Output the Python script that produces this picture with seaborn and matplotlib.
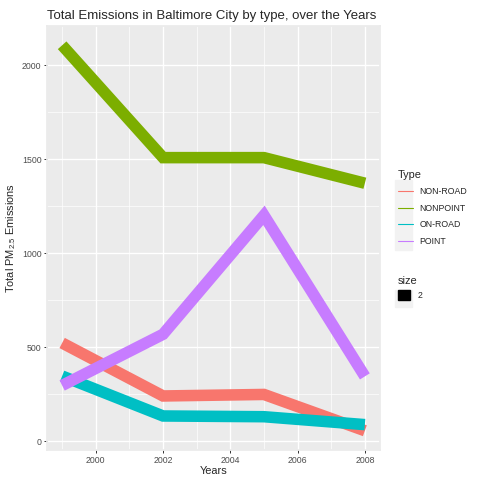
import pandas as pd
import matplotlib
matplotlib.use("Agg")
import matplotlib.pyplot as plt
import seaborn as sns
from matplotlib.lines import Line2D
from matplotlib.patches import Patch, Rectangle

# Values
years = [1999, 2002, 2005, 2008]
types = ["NON-ROAD", "NONPOINT", "ON-ROAD", "POINT"]
non_road = [522.9, 240.8, 248.9, 55.8]
nonpoint = [2107.6, 1509.5, 1509.5, 1373.2]
on_road = [346.8, 134.3, 130.4, 88.3]
point = [296.8, 569.3, 1202.5, 345.0]
colors = ["#F8766D", "#7CAE00", "#00BFC4", "#C77CFF"]

data = pd.DataFrame({
    "year": years * 4,
    "Type": [t for t in types for _ in years],
    "Emissions": non_road + nonpoint + on_road + point,
})

sns.set_theme(style="darkgrid", rc={
    "axes.facecolor": "#EBEBEB",
    "grid.color": "white",
    "axes.edgecolor": "#EBEBEB",
    "xtick.bottom": True,
    "ytick.left": True,
    "xtick.color": "#333333",
    "ytick.color": "#333333",
})
plt.rcParams["font.family"] = ["Liberation Sans", "DejaVu Sans"]
plt.rcParams["mathtext.fontset"] = "custom"
plt.rcParams["mathtext.rm"] = "Liberation Sans"
plt.rcParams["mathtext.default"] = "regular"

fig = plt.figure(figsize=(4.8, 4.8), dpi=100)
ax = fig.add_axes([47 / 480, 1 - 450 / 480, 333 / 480, 424 / 480])

sns.lineplot(data=data, x="year", y="Emissions", hue="Type", palette=colors,
             linewidth=8.3, ax=ax, legend=False, solid_capstyle="butt",
             solid_joinstyle="miter")

# limits with 5% padding like ggplot
ymin, ymax = min(data["Emissions"]), max(data["Emissions"])
pad = (ymax - ymin) * 0.05
ax.set_ylim(ymin - pad, ymax + pad)
ax.set_xlim(1999 - 0.45, 2008 + 0.45)

ax.set_xticks([2000, 2002, 2004, 2006, 2008])
ax.set_yticks([0, 500, 1000, 1500, 2000])
ax.set_xticks([1999, 2001, 2003, 2005, 2007], minor=True)
ax.set_yticks([250, 750, 1250, 1750], minor=True)
ax.grid(which="major", color="white", linewidth=1.0)
ax.grid(which="minor", color="white", linewidth=0.5)
ax.tick_params(which="major", length=2.5, width=0.7, labelsize=6.3,
               labelcolor="#4D4D4D", pad=1.5)
ax.tick_params(which="minor", length=0)

ax.set_xlabel("Years", fontsize=7.9, labelpad=1)
ax.set_ylabel("Total PM$_{2.5}$ Emissions", fontsize=7.9, labelpad=3)
ax.set_title("Total Emissions in Baltimore City by type, over the Years",
             fontsize=9.5, loc="left", pad=5)

# legend key background
fig.patches.append(Rectangle((395 / 480, 1 - 250 / 480), 17 / 480, 70 / 480,
                             transform=fig.transFigure, color="#F2F2F2", zorder=0))
fig.patches.append(Rectangle((395 / 480, 1 - 307 / 480), 17 / 480, 17 / 480,
                             transform=fig.transFigure, color="#F2F2F2", zorder=0))

handles = [Line2D([0], [0], color=c, linewidth=0.8) for c in colors]
leg1 = fig.legend(handles, types, title="Type", loc="upper left",
                  bbox_to_anchor=(390 / 480, 1 - 162 / 480), frameon=False,
                  fontsize=6.3, title_fontsize=7.9, handlelength=1.7,
                  labelspacing=0.85, alignment="left", handletextpad=0.8)
size_handle = [Patch(facecolor="black", edgecolor="black")]
leg2 = fig.legend(size_handle, ["2"], title="size", loc="upper left",
                  bbox_to_anchor=(390 / 480, 1 - 268 / 480), frameon=False,
                  fontsize=6.3, title_fontsize=7.9, handlelength=1.4,
                  handleheight=1.4, alignment="left", handletextpad=0.9)

fig.savefig("out.png", dpi=100)
